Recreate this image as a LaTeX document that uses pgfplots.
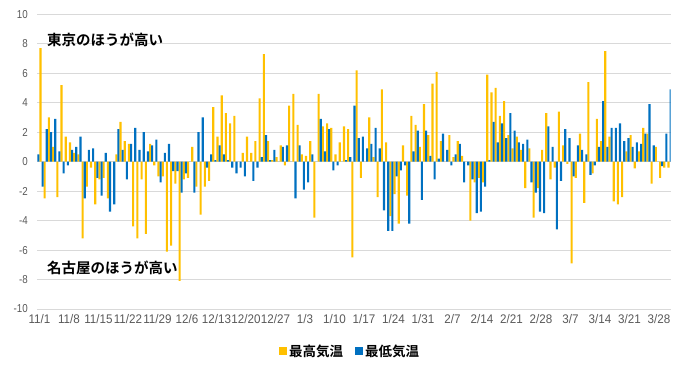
\documentclass[border=0pt]{standalone}
\usepackage{pgfplots}
\pgfplotsset{compat=1.18}
\usepackage{pgfplotstable}
\usepackage{fontspec}
\setmainfont{Liberation Sans}
\newfontfamily\tickfont[FakeStretch=0.85]{Liberation Sans}
\newfontfamily\xtickfont[FakeStretch=0.93]{Liberation Sans}
\newfontfamily\cjkb{Noto Sans CJK JP Bold}
\definecolor{ygold}{HTML}{FFC000}
\definecolor{bblue}{HTML}{0070C0}
\definecolor{gridgray}{HTML}{D9D9D9}
\definecolor{tickgray}{HTML}{595959}

\pgfplotstableread{
d lo hi
0 0.5 7.7
1 -1.7 -2.5
2 2.2 3.0
3 2.0 1.0
4 2.9 -2.4
5 0.7 5.2
6 -0.8 1.7
7 -0.25 1.3
8 0.8 0.6
9 1.0 0.5
10 1.7 -5.2
11 -2.5 -1.7
12 0.8 -0.4
13 0.9 -2.9
14 -1.1 -1.2
15 -2.3 -1.1
16 0.6 -2.5
17 -3.4 0
18 -2.9 0.5
19 2.2 2.7
20 0.8 1.4
21 -1.2 1.2
22 1.2 -4.4
23 2.3 -5.2
24 0.8 -1.2
25 2.0 -4.9
26 0.7 1.2
27 1.1 -0.25
28 1.5 -1.0
29 -1.4 -1.0
30 0.6 -6.1
31 1.2 -5.7
32 -0.65 -1.5
33 -0.65 -8.1
34 -2.1 -1.2
35 -0.8 -1.1
36 0 1.0
37 -2.1 -1.7
38 2.0 -3.6
39 3.0 -1.7
40 -0.4 -1.3
41 0.5 3.7
42 0.1 1.7
43 1.1 4.5
44 0.5 3.3
45 0.1 2.6
46 -0.4 3.1
47 -0.8 0
48 -0.4 0.6
49 -1.0 1.7
50 0 0.6
51 -1.3 1.4
52 -0.4 4.3
53 0.3 7.3
54 1.8 1.4
55 0.1 0.1
56 0.8 0.3
57 0 1.1
58 1.0 -0.25
59 1.1 3.8
60 0 4.6
61 -2.5 2.5
62 1.1 0.5
63 -1.9 0.4
64 -1.4 1.4
65 0.5 -3.8
66 0 4.6
67 2.9 2.4
68 0.7 2.6
69 2.2 2.3
70 -0.6 0.5
71 -0.25 1.3
72 0 2.4
73 0.1 2.2
74 0.3 -6.5
75 3.8 6.2
76 1.6 -1.1
77 1.7 0
78 0.9 3.0
79 1.2 0.3
80 2.3 -2.4
81 0.9 4.9
82 -3.3 1.3
83 -4.7 -3.7
84 -4.7 -2.2
85 -1.0 -4.2
86 -0.6 1.1
87 -0.25 -2.3
88 -4.2 3.1
89 0.7 2.5
90 2.1 1.0
91 -2.6 3.9
92 2.1 1.8
93 0.4 5.3
94 -1.2 6.1
95 0.2 1.4
96 1.9 0
97 0.8 1.8
98 -0.25 0.3
99 0.5 1.4
100 1.2 0.4
101 -1.4 0
102 -0.25 -4.0
103 -1.2 -1.4
104 -3.5 -1.1
105 -3.4 -1.4
106 -1.7 5.9
107 0.1 4.7
108 2.7 5.0
109 1.3 3.1
110 2.6 4.1
111 1.6 1.8
112 3.3 0.9
113 2.1 1.7
114 1.3 0.8
115 1.2 -1.8
116 1.5 0.9
117 -1.4 -3.8
118 -2.1 -1.8
119 -3.4 0.8
120 -3.5 3.3
121 2.4 -1.2
122 1.0 -0.4
123 -4.6 3.4
124 -1.3 1.1
125 2.2 -0.15
126 1.6 -6.9
127 -1.0 -1.1
128 1.1 1.9
129 0.8 -2.8
130 0.5 5.4
131 -0.9 -0.8
132 -0.25 2.9
133 1.0 1.4
134 4.1 7.5
135 1.0 1.7
136 2.3 -2.7
137 2.3 -2.9
138 2.6 -2.4
139 1.4 0.7
140 1.6 1.8
141 1.0 -0.45
142 1.3 0.7
143 1.2 2.3
144 1.9 1.9
145 3.9 -1.5
146 1.1 1.0
147 0 -1.1
148 -0.3 -0.4
149 1.9 -0.4
150 4.9 0
}\datatable

\begin{document}
\begin{tikzpicture}
\path[use as bounding box] (-37.3pt,-62pt) rectangle (659.7pt,309pt);
\begin{axis}[
  at={(0pt,0pt)}, anchor=south west,
  scale only axis, width=633.4pt, height=294.7pt,
  xmin=-0.5, xmax=149.77, ymin=-10, ymax=10,
  ytick={-10,-8,...,10},
  xtick={0,7,...,147},
  xticklabels={11/1,11/8,11/15,11/22,11/29,12/6,12/13,12/20,12/27,1/3,1/10,1/17,1/24,1/31,2/7,2/14,2/21,2/28,3/7,3/14,3/21,3/28},
  ymajorgrids, grid style={draw=gridgray, line width=0.8pt},
  axis line style={draw=none},
  major tick length=0pt,
  tick label style={text=tickgray},
  yticklabel style={font=\tickfont\fontsize{11.5}{13}\selectfont, xshift=-6pt},
  xticklabel style={font=\xtickfont\fontsize{12.5}{14}\selectfont, yshift=-4.5pt, inner sep=1pt},
  /pgf/number format/assume math mode=true,
  legend columns=2,
  legend style={at={(0.4937,-0.1425)}, anchor=center, draw=none, fill=none,
    font=\cjkb\fontsize{13.5}{15}\selectfont,
    /tikz/every even column/.append style={column sep=10pt},
    inner sep=0pt},
]
\addplot[ybar, bar width=0.5, bar shift=0.25, fill=ygold, draw=none,
  legend image code/.code={\fill[ygold] (0pt,-4pt) rectangle (8pt,4pt);}]
  table[x=d, y=hi] {\datatable};
\addlegendentry{最高気温}
\addplot[ybar, bar width=0.5, bar shift=-0.25, fill=bblue, draw=none,
  legend image code/.code={\fill[bblue] (0pt,-4pt) rectangle (8pt,4pt);}]
  table[x=d, y=lo] {\datatable};
\addlegendentry{最低気温}
\node[anchor=west, inner sep=0pt, font=\cjkb\fontsize{14.5}{16}\selectfont] at (rel axis cs:0.0153,0.9128) {東京のほうが高い};
\node[anchor=west, inner sep=0pt, font=\cjkb\fontsize{14.5}{16}\selectfont] at (rel axis cs:0.0153,0.139) {名古屋のほうが高い};
\end{axis}
\end{tikzpicture}
\end{document}
